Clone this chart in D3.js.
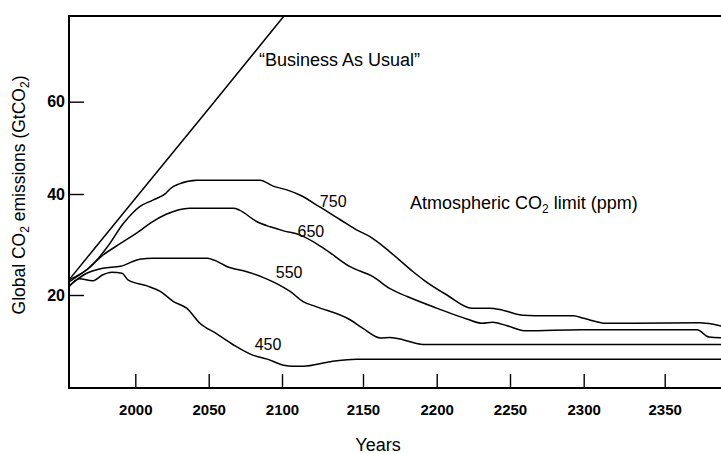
<!DOCTYPE html>
<html>
<head>
<meta charset="utf-8">
<script src="https://cdn.jsdelivr.net/npm/d3@7"></script>
<style>
  body { margin: 0; background: #fff; }
  svg { display: block; }
</style>
</head>
<body>
<div id="chart"></div>
<script>
// Values: [year, GtCO2]
const xTickYears = [2000, 2050, 2100, 2150, 2200, 2250, 2300, 2350];
const yTickValues = [20, 40, 60];

const businessAsUsual = [[1955, 23.0], [2002.5, 40], [2053.9, 60], [2105, 80.2]];

const limit750 = [[1955,23.0],[1970,25.7],[1981,29.5],[1992,34.2],[1998,36.2],[2003,37.5],[2012,38.8],
  [2021,40.2],[2024,41.2],[2030,42.2],[2042,43.0],[2085,43.0],[2094,41.7],[2103,40.9],[2111,39.8],
  [2123,37.5],[2136,34.9],[2146,32.9],[2155,31.5],[2168,28.6],[2184,24.6],[2191,23.0],[2207,20.0],
  [2224,17.4],[2236,17.4],[2245,17.0],[2259,16.0],[2275,15.9],[2293,15.9],[2300,15.4],[2314,14.4],
  [2331,14.4],[2374,14.5],[2383,14.2],[2392,13.6]];

const limit650 = [[1955,22.6],[1967,25.0],[1978,27.9],[1990,30.2],[2003,32.7],[2010,34.2],[2021,36.0],
  [2037,37.2],[2067,37.2],[2071,36.8],[2083,34.5],[2092,33.5],[2101,32.7],[2111,31.9],[2126,29.2],
  [2142,25.6],[2157,23.6],[2168,21.3],[2180,19.7],[2200,17.4],[2221,15.2],[2231,14.4],[2238,14.6],
  [2248,13.9],[2261,12.9],[2298,13.1],[2372,13.1],[2380,11.7],[2392,11.5]];

const limit550 = [[1955,21.8],[1967,24.3],[1978,25.3],[1990,25.7],[2003,27.1],[2012,27.3],[2049,27.3],
  [2056,26.6],[2062,25.7],[2076,24.6],[2087,23.5],[2096,22.3],[2105,20.7],[2113,18.7],[2121,17.7],
  [2142,15.1],[2150,13.4],[2162,11.5],[2168,11.6],[2175,11.3],[2191,10.2],[2392,10.2]];

const limit450 = [[1955,21.6],[1962,23.2],[1971,22.8],[1978,24.0],[1984,24.5],[1991,24.3],[1995,23.0],
  [2008,21.8],[2017,20.7],[2026,18.7],[2035,17.4],[2044,14.4],[2055,12.4],[2067,10.1],[2080,8.1],
  [2090,7.3],[2101,6.1],[2107,5.9],[2113,5.9],[2130,6.8],[2146,7.3],[2392,7.3]];

const seriesList = [limit750, limit650, limit550, limit450];

// label text with its anchor point in data units
const curveLabels = [
  {text: "750", year: 2131.6, value: 37.5},
  {text: "650", year: 2117.8, value: 31.4},
  {text: "550", year: 2104.4, value: 23.3},
  {text: "450", year: 2090.5, value: 9.1}
];

const width = 721, height = 454;
const box = {left: 69, top: 16, bottom: 388, right: 760};
const font = "'Liberation Sans', Arial, Helvetica, sans-serif";

const svg = d3.select("#chart")
  .append("svg")
    .attr("width", width)
    .attr("height", height)
    .style("font-family", font);

// the original figure's tick spacing is not quite even, so the scales are piecewise
const x = d3.scaleLinear()
  .domain([1950, 2000, 2050, 2100, 2150, 2200, 2250, 2300, 2350, 2400])
  .range([61.6, 135.3, 208.7, 282, 363, 436.7, 510, 583.7, 664.7, 738.2]);

const y = d3.scaleLinear()
  .domain([0, 20, 40, 60, 80])
  .range([396, 295, 194, 101.7, 9.4]);

svg.append("clipPath")
    .attr("id", "plot-clip")
  .append("rect")
    .attr("x", box.left)
    .attr("y", box.top)
    .attr("width", box.right - box.left)
    .attr("height", box.bottom - box.top);

// axes
const xAxis = svg.append("g")
  .attr("transform", `translate(0, ${box.bottom})`)
  .call(d3.axisBottom(x).tickValues(xTickYears).tickFormat(d3.format("d"))
    .tickSizeInner(-14).tickSizeOuter(0).tickPadding(16));

const yAxis = svg.append("g")
  .attr("transform", `translate(${box.left}, 0)`)
  .call(d3.axisLeft(y).tickValues(yTickValues)
    .tickSizeInner(-15).tickSizeOuter(0).tickPadding(4));

[xAxis, yAxis].forEach(ax => {
  ax.select(".domain").remove();
  ax.selectAll(".tick line").attr("stroke", "#000").attr("stroke-width", 1.4);
  ax.selectAll(".tick text")
    .attr("fill", "#000")
    .style("font", `bold 15px ${font}`);
});
yAxis.selectAll(".tick text").style("font-size", "16px");

// frame
svg.append("path")
  .attr("d", `M${box.right},${box.top}H${box.left}V${box.bottom}H${box.right}`)
  .attr("fill", "none")
  .attr("stroke", "#000")
  .attr("stroke-width", 2);

// curves
const line = d3.line()
  .x(d => x(d[0]))
  .y(d => y(d[1]))
  .curve(d3.curveMonotoneX);

const lines = svg.append("g").attr("clip-path", "url(#plot-clip)");

lines.append("path")
  .datum(businessAsUsual)
  .attr("d", d3.line().x(d => x(d[0])).y(d => y(d[1])))
  .attr("fill", "none")
  .attr("stroke", "#000")
  .attr("stroke-width", 1.5);

lines.selectAll(".limit")
  .data(seriesList)
  .join("path")
    .attr("class", "limit")
    .attr("d", line)
    .attr("fill", "none")
    .attr("stroke", "#000")
    .attr("stroke-width", 1.5)
    .attr("stroke-linejoin", "round");

// annotations
svg.selectAll(".curve-label")
  .data(curveLabels)
  .join("text")
    .attr("class", "curve-label")
    .attr("x", d => x(d.year))
    .attr("y", d => y(d.value))
    .attr("text-anchor", "middle")
    .style("font-size", "16px")
    .text(d => d.text);

svg.append("text")
  .attr("x", x(2084.3))
  .attr("y", y(67.7))
  .style("font-size", "18px")
  .text("\u201cBusiness As Usual\u201d");

const limitTitle = svg.append("text")
  .attr("x", x(2181.9))
  .attr("y", y(37.0))
  .style("font-size", "18px");
limitTitle.append("tspan").text("Atmospheric CO");
limitTitle.append("tspan").attr("dy", 4).style("font-size", "12px").text("2");
limitTitle.append("tspan").attr("dy", -4).text(" limit (ppm)");

// axis titles
svg.append("text")
  .attr("x", 378)
  .attr("y", 451)
  .attr("text-anchor", "middle")
  .style("font-size", "18px")
  .text("Years");

const yTitle = svg.append("text")
  .attr("transform", "translate(25, 195) rotate(-90)")
  .attr("text-anchor", "middle")
  .style("font-size", "17.5px");
yTitle.append("tspan").text("Global CO");
yTitle.append("tspan").attr("dy", 4).style("font-size", "12px").text("2");
yTitle.append("tspan").attr("dy", -4).text(" emissions (GtCO");
yTitle.append("tspan").attr("dy", 4).style("font-size", "12px").text("2");
yTitle.append("tspan").attr("dy", -4).text(")");
</script>
</body>
</html>
